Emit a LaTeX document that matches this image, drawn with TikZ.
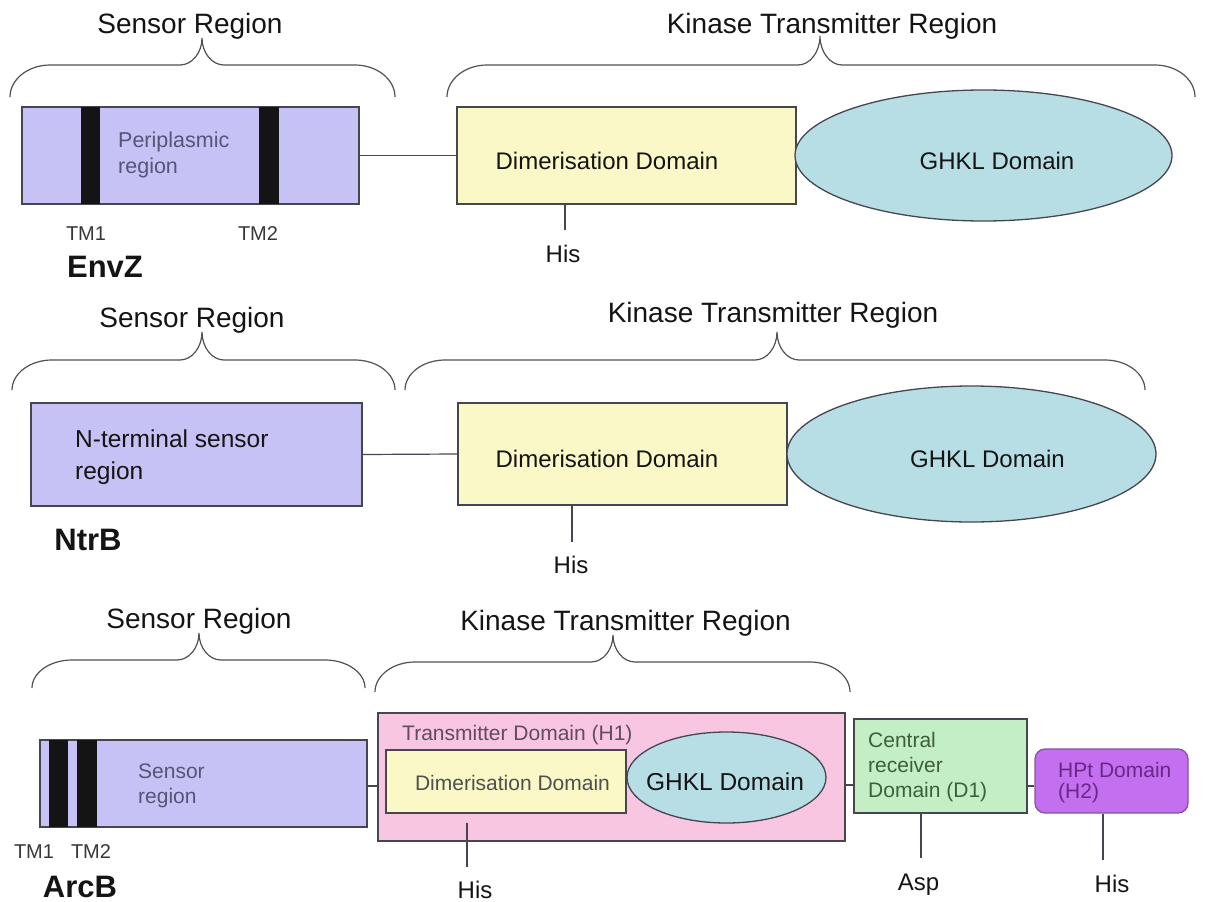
\documentclass[tikz,border=0pt]{standalone}
\usepackage{fontspec}
\setmainfont{Liberation Sans}
\usetikzlibrary{shapes.geometric}

\definecolor{lavender}{RGB}{198,194,246}
\definecolor{paleyellow}{RGB}{250,248,198}
\definecolor{paleblue}{RGB}{183,222,228}
\definecolor{palepink}{RGB}{248,198,224}
\definecolor{palegreen}{RGB}{196,238,196}
\definecolor{orchid}{RGB}{196,110,240}
\definecolor{edgegray}{RGB}{70,70,80}
\definecolor{bracegray}{RGB}{80,80,85}
\definecolor{slatetext}{RGB}{85,85,118}
\definecolor{mauvetext}{RGB}{95,75,98}
\definecolor{greentext}{RGB}{60,95,60}
\definecolor{purpletext}{RGB}{105,40,135}
\definecolor{inktext}{RGB}{20,20,20}

\tikzset{
  boxline/.style={draw=edgegray, line width=1.3pt},
  domainbox/.style={boxline, rectangle, inner sep=0pt},
  domainoval/.style={boxline, ellipse, inner sep=0pt, fill=paleblue},
  link/.style={draw=edgegray, line width=1.2pt},
  bracestyle/.style={draw=bracegray, line width=1.2pt},
  regiontxt/.style={font=\fontsize{28}{33}\selectfont, inner sep=0pt, text=inktext, anchor=base},
  domtxt/.style={font=\fontsize{24}{29}\selectfont, inner sep=0pt, text=inktext, anchor=base},
  smalltxt/.style={font=\fontsize{21}{25}\selectfont, inner sep=0pt, align=left},
  nametxt/.style={font=\bfseries\fontsize{31}{36}\selectfont, inner sep=0pt, text=inktext, anchor=base},
  tmbar/.style={fill=black!92}
}

% curly brace over a region: x-left, x-right, x-tip, y-ends, y-flat, y-tip
\newcommand{\regionbrace}[6]{%
  \draw[bracestyle] (#1,#4) .. controls (#1,{#4-0.55*(#4-#5)}) and ({#1+18},#5) .. ({#1+40},#5)
    -- ({#3-22},#5) .. controls ({#3-10},#5) and (#3,{#5-0.45*(#5-#6)}) .. (#3,#6)
    .. controls (#3,{#5-0.45*(#5-#6)}) and ({#3+10},#5) .. ({#3+22},#5)
    -- ({#2-40},#5) .. controls ({#2-18},#5) and (#2,{#4-0.55*(#4-#5)}) .. (#2,#4);}

\begin{document}
\begin{tikzpicture}[x=1pt,y=-1pt]
\useasboundingbox (0,0) rectangle (1205,902);

% ---------------- EnvZ ----------------
\node[regiontxt] (sens1) at (190,33) {Sensor Region};
\node[regiontxt] (kin1) at (832,33) {Kinase Transmitter Region};
\regionbrace{10}{395}{202}{97}{65}{38}
\regionbrace{447}{1195}{820}{97}{65}{36}

\node[domainbox, fill=lavender, minimum width=337pt, minimum height=97pt] (envz) at (190.5,155.5) {};
\fill[tmbar] (81,107) rectangle (100,204);
\fill[tmbar] (259,107) rectangle (279,204);
% multi-line labels: the base anchor sits on the last line
\node[smalltxt, text=slatetext, anchor=base west, font=\fontsize{21.5}{26}\selectfont] (peri) at (118,173) {Periplasmic\\region};
\node[smalltxt, text=inktext!85, anchor=base, font=\fontsize{20}{24}\selectfont] (tm1a) at (86,240) {TM1};
\node[smalltxt, text=inktext!85, anchor=base, font=\fontsize{20}{24}\selectfont] (tm2a) at (258,240) {TM2};
\node[nametxt] (envzname) at (105,277) {EnvZ};

\node[domainbox, fill=paleyellow, minimum width=339pt, minimum height=97pt] (dim1) at (626.5,155.5) {};
\node[domtxt] (dimtxt1) at (607,169) {Dimerisation Domain};
\node[domainoval, minimum width=377pt, minimum height=131pt] (ghkl1) at (983.5,155.5) {};
\node[domtxt] (ghkltxt1) at (997,169) {GHKL Domain};
\draw[link] (envz.east) -- (dim1.west);
\coordinate (hisend1) at (565,230);
\draw[link] (hisend1 |- dim1.south) -- (hisend1);
\node[domtxt] (his1) at (563,262) {His};

% ---------------- NtrB ----------------
\node[regiontxt] (sens2) at (192,327) {Sensor Region};
\node[regiontxt] (kin2) at (773,322) {Kinase Transmitter Region};
\regionbrace{12}{395}{202}{390}{360}{332}
\regionbrace{405}{1145}{777}{390}{360}{332}

\node[domainbox, fill=lavender, minimum width=331pt, minimum height=103pt] (ntrb) at (196.5,454.5) {};
\node[smalltxt, text=inktext, anchor=base west, font=\fontsize{24.5}{32}\selectfont] (nterm) at (75,479) {N-terminal sensor\\region};
\node[nametxt] (ntrbname) at (88,550) {NtrB};

\node[domainbox, fill=paleyellow, minimum width=329pt, minimum height=102pt] (dim2) at (622.5,454) {};
\node[domtxt] (dimtxt2) at (607,467) {Dimerisation Domain};
\node[domainoval, minimum width=369pt, minimum height=136pt] (ghkl2) at (971.5,454) {};
\node[domtxt] (ghkltxt2) at (987.5,467) {GHKL Domain};
\draw[link] (ntrb.east) -- (dim2.west);
\coordinate (hisend2) at (572,542);
\draw[link] (hisend2 |- dim2.south) -- (hisend2);
\node[domtxt] (his2) at (571,573) {His};

% ---------------- ArcB ----------------
\node[regiontxt] (sens3) at (199,628) {Sensor Region};
\node[regiontxt] (kin3) at (625.5,630) {Kinase Transmitter Region};
\regionbrace{32}{365}{199}{688}{660}{633}
\regionbrace{375}{850}{613}{692}{662}{635}

\node[domainbox, fill=lavender, minimum width=327pt, minimum height=87pt] (arcb) at (203.5,783.5) {};
\fill[tmbar] (49,740) rectangle (68,827);
\fill[tmbar] (77,740) rectangle (97,827);
\node[smalltxt, text=slatetext, anchor=base west] (senstxt) at (138,803) {Sensor\\region};
\node[smalltxt, text=inktext!85, anchor=base, font=\fontsize{20}{24}\selectfont] (tm1b) at (34,858) {TM1};
\node[smalltxt, text=inktext!85, anchor=base, font=\fontsize{20}{24}\selectfont] (tm2b) at (91,858) {TM2};
\node[nametxt] (arcbname) at (80,897) {ArcB};

\node[domainbox, fill=palepink, minimum width=467pt, minimum height=128pt] (pink) at (611.5,777) {};
\node[smalltxt, text=mauvetext, anchor=base west] (h1txt) at (402,740) {Transmitter Domain (H1)};
\node[domainbox, fill=paleyellow, minimum width=240pt, minimum height=63pt] (dim3) at (506,781.5) {};
\node[smalltxt, text=inktext!75, anchor=base] (dimtxt3) at (512.5,790) {Dimerisation Domain};
\node[domainoval, minimum width=199pt, minimum height=91pt] (ghkl3) at (726.5,777.5) {};
\node[domtxt, font=\fontsize{24.5}{29}\selectfont] (ghkltxt3) at (725,790) {GHKL Domain};

\node[domainbox, fill=palegreen, minimum width=173pt, minimum height=94pt] (recv) at (940.5,766) {};
\node[smalltxt, text=greentext, anchor=base west] (recvtxt) at (868,797) {Central\\receiver\\Domain (D1)};
\node[domainbox, draw=purpletext!80, fill=orchid, rounded corners=10pt, minimum width=153pt, minimum height=64pt] (hpt) at (1111.5,781) {};
\node[smalltxt, text=purpletext, anchor=base west, font=\fontsize{21}{21}\selectfont] (hpttxt) at (1058,798) {HPt Domain\\(H2)};

\coordinate (row3a) at (0,786);
\coordinate (row3b) at (0,785);
\draw[link] (arcb.east |- row3a) -- (pink.west |- row3a);
\draw[link] (pink.east |- row3b) -- (recv.west |- row3b);
\draw[link] (recv.east |- row3a) -- (hpt.west |- row3a);

\coordinate (hisend3) at (467,867);
\draw[link, shorten <=9pt] (hisend3 |- dim3.south) -- (hisend3);
\node[domtxt] (his3) at (475,898) {His};
\coordinate (aspend) at (921,858);
\draw[link] (aspend |- recv.south) -- (aspend);
\node[domtxt] (asp) at (918.5,890) {Asp};
\coordinate (hisend4) at (1103,860);
\draw[link] (hisend4 |- hpt.south) -- (hisend4);
\node[domtxt] (his4) at (1112,892) {His};
\end{tikzpicture}
\end{document}
